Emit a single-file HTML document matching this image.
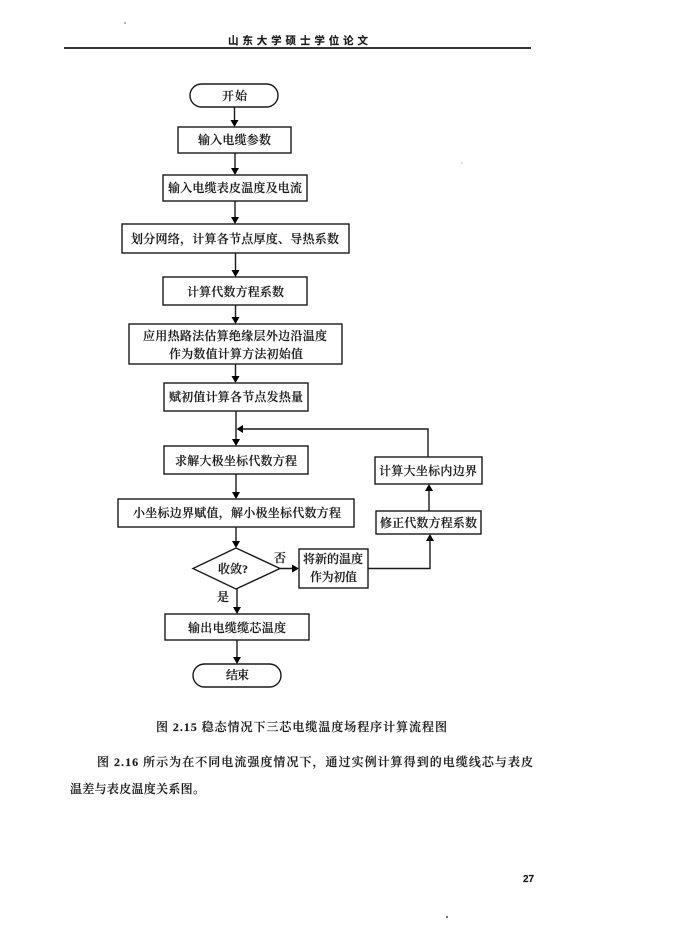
<!DOCTYPE html>
<html lang="zh">
<head>
<meta charset="utf-8">
<title>流程图</title>
<style>
html,body{margin:0;padding:0;background:#fff;width:690px;height:948px;overflow:hidden}
svg{display:block;filter:blur(0.35px)}
text{font-family:"Liberation Serif","Noto Serif CJK SC",serif;font-size:12px;fill:#1a1a1a;stroke:#1a1a1a;stroke-width:0.15;font-weight:600;text-anchor:start}
.s{fill:#fff;stroke:#1a1a1a;stroke-width:1.4}
.l{fill:none;stroke:#1a1a1a;stroke-width:1.4}
.h{fill:#000;stroke:none}
</style>
</head>
<body>
<svg width="690" height="948" viewBox="0 0 690 948" xmlns="http://www.w3.org/2000/svg">
<rect width="690" height="948" fill="#fff"/>

<!-- header -->
<text x="228" y="44" textLength="140" lengthAdjust="spacing" style="font-size:10.5px;font-weight:700;font-family:'Noto Sans CJK SC',sans-serif">山东大学硕士学位论文</text>
<path d="M64 48H531" fill="none" stroke="#1a1a1a" stroke-width="1.8"/>

<!-- connectors -->
<path class="l" d="M234.500 107V121M235 153V169M235 201V218M235.500 253V271M235.500 305V318M235.500 364V377M236 411V440M236 474V493M236 527V542M237 589V608M237 640V658"/>
<path class="l" d="M280 568.500H293M368 568.500H430V541M429 511V491M428 457V429H242"/>

<!-- arrowheads -->
<path class="h" d="M230.500 120H238.500L234.500 127Z"/>
<path class="h" d="M231 168H239L235 175Z"/>
<path class="h" d="M231 217H239L235 224Z"/>
<path class="h" d="M231.500 270H239.500L235.500 277Z"/>
<path class="h" d="M231.500 317H239.500L235.500 324Z"/>
<path class="h" d="M231.500 376H239.500L235.500 383Z"/>
<path class="h" d="M232 439H240L236 446Z"/>
<path class="h" d="M232 492H240L236 499Z"/>
<path class="h" d="M232 541H240L236 548Z"/>
<path class="h" d="M233 607H241L237 614Z"/>
<path class="h" d="M233 657H241L237 664Z"/>
<path class="h" d="M292 564.500V572.500L299 568.500Z"/>
<path class="h" d="M426 541H434L430 534Z"/>
<path class="h" d="M425 491H433L429 484Z"/>
<path class="h" d="M243 425V433L236.500 429Z"/>

<!-- nodes -->
<rect class="s" x="190" y="84" width="88" height="23" rx="11.500"/>
<rect class="s" x="178" y="127" width="113" height="26"/>
<rect class="s" x="163" y="175" width="144" height="26"/>
<rect class="s" x="122" y="224" width="227" height="29"/>
<rect class="s" x="163" y="277" width="144" height="28"/>
<rect class="s" x="129" y="324" width="213" height="40"/>
<rect class="s" x="164" y="383" width="144" height="28"/>
<rect class="s" x="164" y="446" width="144" height="28"/>
<rect class="s" x="375" y="457" width="107" height="27"/>
<rect class="s" x="118" y="499" width="236" height="28"/>
<rect class="s" x="376" y="511" width="105" height="23"/>
<path class="s" d="M193 568.500L236 548L280 568.500L236 589Z"/>
<rect class="s" x="299" y="549" width="69" height="39"/>
<rect class="s" x="165" y="614" width="144" height="26"/>
<rect class="s" x="193" y="664" width="88" height="23" rx="11.500"/>

<!-- labels -->
<text x="222" y="100" textLength="25" lengthAdjust="spacing">开始</text>
<text x="198" y="144" textLength="73" lengthAdjust="spacing">输入电缆参数</text>
<text x="168" y="192" textLength="134" lengthAdjust="spacing">输入电缆表皮温度及电流</text>
<text x="131" y="243" textLength="208" lengthAdjust="spacing">划分网络，计算各节点厚度、导热系数</text>
<text x="187" y="296" textLength="97" lengthAdjust="spacing">计算代数方程系数</text>
<text x="143" y="340" textLength="184" lengthAdjust="spacing">应用热路法估算绝缘层外边沿温度</text>
<text x="169" y="358" textLength="134" lengthAdjust="spacing">作为数值计算方法初始值</text>
<text x="169" y="401" textLength="134" lengthAdjust="spacing">赋初值计算各节点发热量</text>
<text x="175" y="465" textLength="122" lengthAdjust="spacing">求解大极坐标代数方程</text>
<text x="379" y="475" textLength="98" lengthAdjust="spacing">计算大坐标内边界</text>
<text x="133" y="517" textLength="208" lengthAdjust="spacing">小坐标边界赋值，解小极坐标代数方程</text>
<text x="380" y="527" textLength="97" lengthAdjust="spacing">修正代数方程系数</text>
<text x="218" y="573" textLength="30" lengthAdjust="spacing">收敛?</text>
<text x="274" y="562">否</text>
<text x="303" y="563" textLength="60" lengthAdjust="spacing">将新的温度</text>
<text x="310" y="581" textLength="47" lengthAdjust="spacing">作为初值</text>
<text x="217" y="601">是</text>
<text x="188" y="632" textLength="98" lengthAdjust="spacing">输出电缆缆芯温度</text>
<text x="226" y="679" textLength="23" lengthAdjust="spacing">结束</text>

<!-- caption and paragraph -->
<text x="156" y="731" textLength="291" lengthAdjust="spacing">图 2.15 稳态情况下三芯电缆温度场程序计算流程图</text>
<text x="97" y="766" textLength="436" lengthAdjust="spacing">图 2.16 所示为在不同电流强度情况下，通过实例计算得到的电缆线芯与表皮</text>
<text x="70" y="793" textLength="135" lengthAdjust="spacing">温差与表皮温度关系图。</text>

<!-- page number -->
<text x="523" y="882" style="font-size:10px;font-weight:700;font-family:'Liberation Sans',sans-serif">27</text>

<!-- scan specks -->
<circle cx="125" cy="23" r="0.800" fill="#555"/>
<circle cx="462" cy="163" r="0.600" fill="#888"/>
<circle cx="447" cy="917" r="1" fill="#444"/>
</svg>
</body>
</html>
